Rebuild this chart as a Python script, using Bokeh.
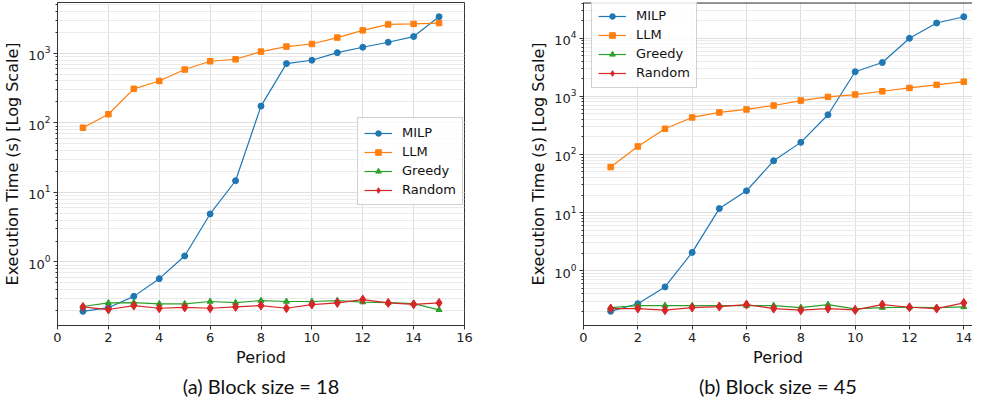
from bokeh.plotting import figure
from bokeh.models import Range1d, FixedTicker, Legend, LegendItem, Title, Span
from bokeh.layouts import row
from bokeh.embed import file_html
from bokeh.resources import INLINE

# ---------------- data ----------------
periods_a = [1, 2, 3, 4, 5, 6, 7, 8, 9, 10, 11, 12, 13, 14, 15]
milp_a = [0.195, 0.22, 0.32, 0.575, 1.22, 4.9, 14.7, 174, 711, 794, 1020, 1220, 1440, 1740, 3360]
llm_a = [85, 133, 308, 400, 584, 768, 820, 1057, 1248, 1360, 1680, 2137, 2600, 2640, 2720]
greedy_a = [0.229, 0.258, 0.26, 0.25, 0.25, 0.27, 0.26, 0.278, 0.27, 0.27, 0.278, 0.265, 0.26, 0.252, 0.205]
random_a = [0.226, 0.207, 0.236, 0.216, 0.222, 0.216, 0.226, 0.236, 0.216, 0.244, 0.258, 0.288, 0.258, 0.246, 0.258]

periods_b = [1, 2, 3, 4, 5, 6, 7, 8, 9, 10, 11, 12, 13, 14]
milp_b = [0.2, 0.27, 0.525, 2.06, 11.7, 23.6, 77.6, 161, 480, 2640, 3800, 9930, 18200, 23300]
llm_b = [60.5, 137, 276, 432, 527, 593, 693, 843, 975, 1070, 1220, 1390, 1570, 1780]
greedy_b = [0.232, 0.251, 0.251, 0.25, 0.25, 0.251, 0.251, 0.232, 0.261, 0.22, 0.232, 0.235, 0.232, 0.238]
random_b = [0.223, 0.223, 0.209, 0.232, 0.241, 0.261, 0.223, 0.209, 0.223, 0.211, 0.261, 0.235, 0.223, 0.279]

series_names = ["MILP", "LLM", "Greedy", "Random"]
series_colors = ["#1f77b4", "#ff7f0e", "#2ca02c", "#d62728"]
series_markers = ["circle", "square", "triangle", "diamond"]
marker_sizes = [6, 5.5, 6, 9]

xticks_a = [0, 2, 4, 6, 8, 10, 12, 14, 16]
xticks_b = [0, 2, 4, 6, 8, 10, 12, 14]

caption_a = "(a) Block size = 18"
caption_b = "(b) Block size = 45"

FONT = "DejaVu Sans"
HEIGHT = 399
FRAME_BOTTOM = 73


def make_fig(width, xr, yr, xticks, border_left, border_right, caption, cap_offset):
    p = figure(width=width, height=HEIGHT, x_range=Range1d(*xr), y_range=Range1d(*yr),
               y_axis_type="log", output_backend="svg", toolbar_location=None,
               min_border_left=border_left, min_border_right=border_right,
               min_border_top=2, min_border_bottom=FRAME_BOTTOM)
    p.background_fill_color = "white"
    p.border_fill_color = "white"
    p.outline_line_color = "#333333"
    p.outline_line_width = 1

    p.xaxis.ticker = FixedTicker(ticks=xticks)
    for ax in (p.xaxis[0], p.yaxis[0]):
        ax.axis_line_color = "#333333"
        ax.major_tick_line_color = "#333333"
        ax.minor_tick_line_color = "#333333"
        ax.major_tick_in = 0
        ax.major_tick_out = 4
        ax.minor_tick_in = 0
        ax.minor_tick_out = 2
        ax.major_label_text_font = FONT
        ax.major_label_text_font_size = "13px"
        ax.major_label_text_color = "#222222"
        ax.axis_label_text_font = FONT
        ax.axis_label_text_font_size = "16px"
        ax.axis_label_text_font_style = "normal"
        ax.axis_label_text_color = "#111111"
        ax.major_label_standoff = 3
        ax.axis_label_standoff = 3
    p.xaxis.minor_tick_line_color = None
    p.xaxis.axis_label = "Period"
    p.yaxis.axis_label = "Execution Time (s) [Log Scale]"
    p.yaxis.ticker.num_minor_ticks = 10

    p.xgrid.grid_line_color = "#dedede"
    p.ygrid.grid_line_color = "#dedede"
    p.ygrid.minor_grid_line_color = "#ebebeb"

    p.add_layout(Title(text=caption, align="center", offset=cap_offset, standoff=4,
                       text_font="Lato", text_font_size="20px", text_font_style="normal",
                       text_color="#111111"), "below")
    return p


def add_series(p, x, ys):
    items = []
    for name, y, c, m, s in zip(series_names, ys, series_colors, series_markers, marker_sizes):
        r1 = p.line(x, y, line_color=c, line_width=1.2)
        r2 = p.scatter(x, y, marker=m, size=s, fill_color=c, line_color=c)
        items.append(LegendItem(label=name, renderers=[r1, r2]))
    return items


yr_a = (0.122, 5370)
yr_b = (0.114, 41000)

p1 = make_fig(496, (0, 16), yr_a, xticks_a, 57, 32, caption_a, -7)
items1 = add_series(p1, periods_a, [milp_a, llm_a, greedy_a, random_a])
leg1 = Legend(items=items1, location=(300, 120))
p1.add_layout(leg1, "center")

p2 = make_fig(476, (0, 14.32), yr_b, xticks_b, 87, 0, caption_b, 4)
items2 = add_series(p2, periods_b, [milp_b, llm_b, greedy_b, random_b])
leg2 = Legend(items=items2, location=(8, 237))
p2.add_layout(leg2, "center")
# the reference's right panel runs past the picture edge: no right border
p2.outline_line_color = None
p2.add_layout(Span(location=yr_b[1], dimension="width", line_color="#333333", line_width=2))

for leg in (leg1, leg2):
    leg.label_text_font = FONT
    leg.label_text_font_size = "13px"
    leg.label_text_color = "#111111"
    leg.label_height = 17
    leg.glyph_height = 14
    leg.glyph_width = 28
    leg.spacing = 2
    leg.padding = 6
    leg.margin = 0
    leg.label_standoff = 10
    leg.border_line_color = "#cccccc"
    leg.border_line_alpha = 0.9
    leg.background_fill_alpha = 0.85

layout = row(p1, p2, spacing=0)
open("out.html", "w").write(file_html(layout, INLINE))
